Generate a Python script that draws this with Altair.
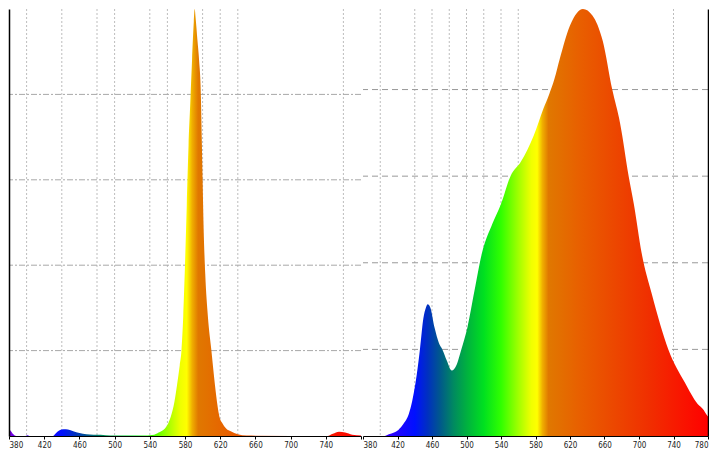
import altair as alt
import pandas as pd

# ---- left spectrum (narrow amber LED) ----
wl_a = [380, 382, 385, 388, 398, 401, 404, 430, 433, 437, 442, 447, 453, 460, 468,
        476, 484, 490, 500, 530, 545, 550, 556, 561, 564, 568, 571, 574, 576, 578,
        580, 582, 584, 586, 588, 590, 591, 592, 594, 596, 598, 599, 600, 601, 603,
        606, 610, 614, 617, 619, 623, 627, 632, 640, 650, 742, 748, 755, 762, 770, 780]
val_a = [0.015, 0.012, 0.004, 0.0, 0.0, 0.002, 0.0, 0.0, 0.006, 0.013, 0.016, 0.015, 0.011, 0.007, 0.004,
         0.003, 0.003, 0.002, 0.001, 0.001, 0.003, 0.008, 0.015, 0.03, 0.046, 0.08, 0.12, 0.165, 0.2, 0.28,
         0.4, 0.54, 0.68, 0.78, 0.88, 0.97, 1.0, 0.98, 0.93, 0.88, 0.8, 0.7, 0.6, 0.5, 0.38,
         0.28, 0.2, 0.12, 0.07, 0.046, 0.028, 0.017, 0.011, 0.004, 0.001, 0.0, 0.005, 0.01, 0.008, 0.003, 0.001]

# ---- right spectrum (white LED) ----
wl_b = [380, 405, 410, 416, 421, 427, 433, 437, 441, 446, 450, 453, 455, 458, 463,
        468, 472, 477, 483, 488, 494, 501, 509, 518, 530, 540, 551, 563, 578, 589,
        596, 602, 608, 620, 628, 635, 646, 658, 669, 678, 688, 694, 703, 715, 734, 753,
        768, 775, 778, 780]
val_b = [0.0, 0.0, 0.004, 0.008, 0.014, 0.028, 0.05, 0.08, 0.124, 0.2, 0.272, 0.297, 0.304, 0.297, 0.25,
         0.215, 0.2, 0.175, 0.151, 0.162, 0.2, 0.25, 0.333, 0.423, 0.49, 0.536, 0.6, 0.633, 0.694, 0.755,
         0.79, 0.825, 0.87, 0.948, 0.977, 0.986, 0.971, 0.912, 0.8, 0.723, 0.6, 0.536, 0.423, 0.327, 0.2, 0.124,
         0.074, 0.06, 0.05, 0.045]

grid_a = [400, 440, 480, 500, 540, 560, 600, 620, 640, 760]
grid_b = [400, 440, 460, 480, 500, 520, 540, 560, 740]
tick_values = list(range(380, 781, 40))
hgrid_values = [0.2, 0.4, 0.6, 0.8]

stop_wl = [380, 410, 440, 455, 470, 485, 500, 520, 540, 560, 575, 582, 588, 595, 630, 670, 710, 745, 780]
stop_col = ["#7a00e0", "#3000ff", "#0010ff", "#0030c0", "#005a8a", "#008a60", "#00b040", "#00e020",
            "#30ff00", "#a0ff00", "#f0ff00", "#ffff00", "#f0b000", "#e07800", "#e86000", "#ec4800",
            "#f03000", "#f81800", "#ff0000"]

WL_MIN, WL_MAX = 380, 780
gradient = alt.Gradient(
    gradient="linear",
    x1=0, x2=1, y1=0, y2=0,
    stops=[alt.GradientStop(offset=(w - WL_MIN) / (WL_MAX - WL_MIN), color=c)
           for w, c in zip(stop_wl, stop_col)],
)

FONT = "Liberation Sans Narrow, DejaVu Sans Condensed, DejaVu Sans"
xscale = alt.Scale(domain=[WL_MIN, WL_MAX], nice=False, zero=False)
PLOT_H = 427


def panel(wl, val, grid, width, ymax, yorient, hdash, hcolor, hide_label):
    df = pd.DataFrame({"wl": wl, "v": val})
    gdf = pd.DataFrame({"wl": grid})
    hdf = pd.DataFrame({"v": hgrid_values})
    yscale = alt.Scale(domain=[0, ymax], nice=False, zero=True)
    if hide_label:
        label_expr = "datum.value == %d ? '' : datum.label" % hide_label
    else:
        label_expr = "datum.label"
    xaxis = alt.Axis(values=tick_values, grid=False, title=None, domainColor="black",
                     domainWidth=1.2, tickColor="black", tickSize=3, labelFontSize=8,
                     labelColor="#222", labelFont=FONT, labelPadding=2,
                     labelFlush=True, labelExpr=label_expr, zindex=1)
    yaxis = alt.Axis(orient=yorient, labels=False, ticks=False, title=None, grid=False,
                     domainColor="black", domainWidth=1.5, zindex=1)
    vrules = alt.Chart(gdf).mark_rule(strokeDash=[2, 2], color="#bdbdbd", strokeWidth=1).encode(
        x=alt.X("wl:Q", scale=xscale, axis=xaxis)
    )
    hrules = alt.Chart(hdf).mark_rule(strokeDash=hdash, color=hcolor, strokeWidth=1).encode(
        y=alt.Y("v:Q", scale=yscale, axis=yaxis)
    )
    area = alt.Chart(df).mark_area(interpolate="monotone", color=gradient, opacity=1).encode(
        x=alt.X("wl:Q", scale=xscale, axis=xaxis),
        y=alt.Y("v:Q", scale=yscale, axis=yaxis),
    )
    return alt.layer(vrules, hrules, area).properties(width=width, height=PLOT_H)


left = panel(wl_a, val_a, grid_a, 352, 1.0, "left", [6, 2, 2, 2], "#a8a8a8", 780)
right = panel(wl_b, val_b, grid_b, 345, 0.986, "right", [6, 4], "#999999", 0)

chart = alt.hconcat(left, right, spacing=2, bounds="flush").properties(
    padding={"left": 0, "top": 0, "right": 0, "bottom": 0},
    background="white",
).configure_view(strokeWidth=0)

chart.save("out.html", embed_options={"renderer": "svg", "actions": False})
